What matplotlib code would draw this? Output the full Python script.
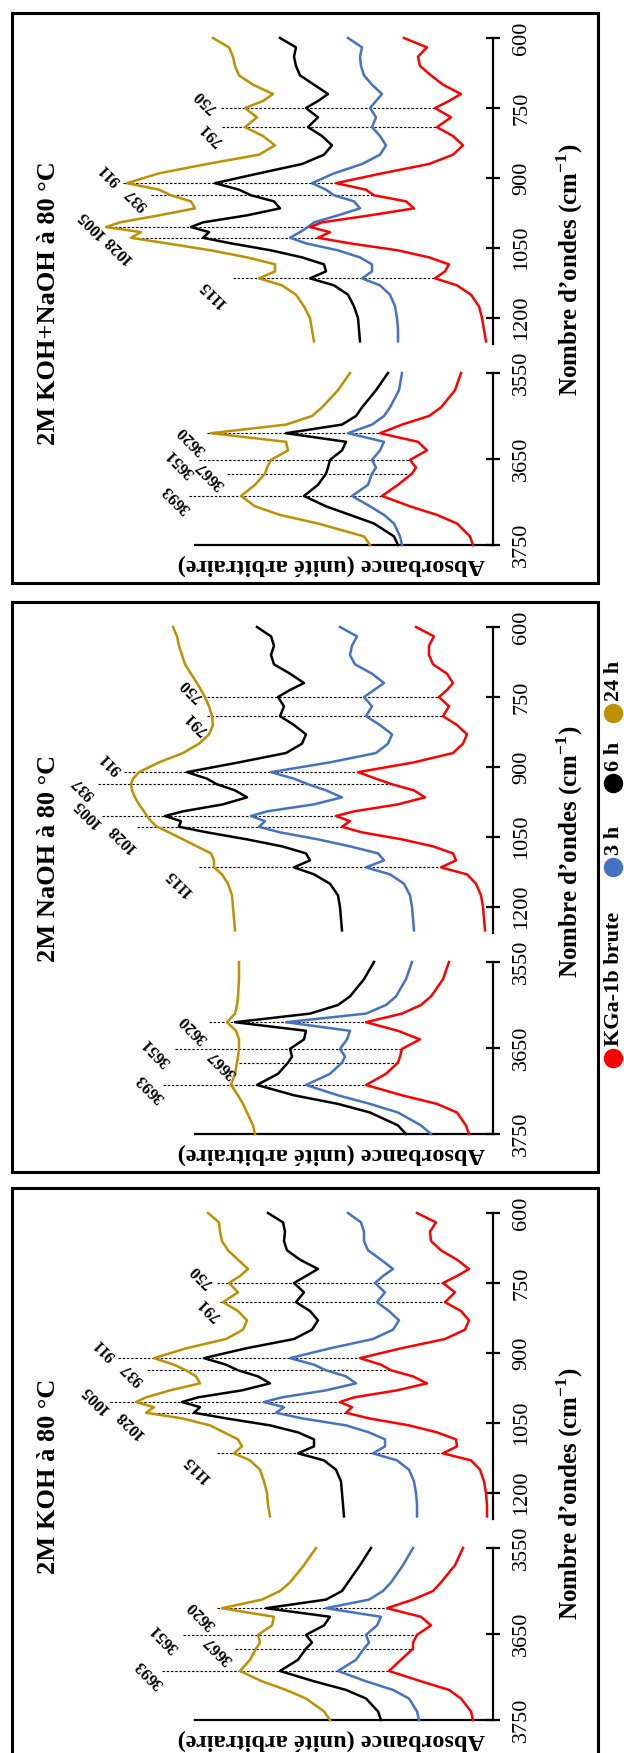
import matplotlib
matplotlib.use("Agg")
import matplotlib.pyplot as plt
from matplotlib.patches import Rectangle
from matplotlib.lines import Line2D

plt.rcParams['font.family'] = ['Liberation Serif', 'DejaVu Serif']
plt.rcParams['mathtext.fontset'] = 'custom'
plt.rcParams['mathtext.rm'] = 'Liberation Serif'
plt.rcParams['mathtext.bf'] = 'Liberation Serif:bold'

# ---------------- data ----------------
wn_r = [600, 620, 640, 660, 680, 700, 720, 735, 750, 770, 791, 810, 830, 850, 870, 890, 911, 925, 937, 950,
        965, 980, 995, 1005, 1016, 1028, 1040, 1055, 1070, 1085, 1100, 1115, 1130, 1150, 1175, 1200, 1225, 1250]
wn_l = [3550, 3570, 3590, 3600, 3610, 3620, 3630, 3640, 3651, 3660, 3667, 3680, 3693, 3705, 3715, 3725, 3740, 3750]

peaks_r = [750, 791, 911, 937, 1005, 1028, 1115]
peaks_l = [3620, 3651, 3667, 3693]

series_names = ["KGa-1b brute", "3 h", "6 h", "24 h"]
titles = ["2M KOH+NaOH à 80 °C", "2M NaOH à 80 °C", "2M KOH à 80 °C"]

# 2M KOH
koh_brute_r = [76, 57, 63, 62, 52, 36, 24, 36, 50, 38, 48, 32, 24, 28, 48, 92, 133, 112, 102, 80,
               66, 96, 139, 153, 141, 147, 124, 84, 56, 37, 36, 50, 22, 13, 9, 7, 6, 6]
koh_3h_r = [145, 132, 129, 129, 125, 112, 100, 110, 118, 108, 116, 104, 94, 100, 120, 163, 203, 179, 167, 147,
            137, 167, 211, 229, 209, 217, 191, 147, 124, 108, 108, 120, 96, 84, 79, 77, 76, 76]
koh_6h_r = [225, 210, 208, 209, 206, 193, 175, 187, 199, 189, 197, 183, 175, 181, 199, 247, 289, 267, 255, 235,
            223, 251, 295, 311, 293, 299, 267, 223, 195, 179, 179, 195, 169, 157, 152, 151, 150, 149]
koh_24h_r = [285, 274, 273, 271, 265, 255, 245, 253, 264, 255, 270, 255, 246, 250, 267, 307, 339, 319, 307, 297,
             293, 323, 347, 357, 339, 347, 311, 283, 269, 255, 251, 259, 243, 233, 229, 226, 225, 223]
koh_brute_l = [30, 38, 52, 60, 80, 106, 72, 62, 76, 80, 80, 92, 104, 72, 44, 32, 22, 20]
koh_3h_l = [80, 90, 102, 110, 124, 167, 112, 116, 127, 124, 129, 137, 155, 127, 100, 84, 76, 74]
koh_6h_l = [122, 133, 145, 151, 167, 227, 163, 169, 187, 181, 187, 195, 213, 179, 147, 127, 115, 112]
koh_24h_l = [177, 189, 203, 213, 231, 271, 219, 221, 235, 233, 237, 243, 253, 231, 207, 187, 169, 163]

# 2M NaOH
naoh_brute_r = [77, 59, 64, 64, 60, 46, 40, 46, 54, 44, 50, 36, 26, 30, 40, 79, 135, 117, 101, 79,
                68, 95, 139, 157, 143, 151, 131, 91, 60, 40, 37, 52, 26, 17, 12, 10, 9, 8]
naoh_3h_r = [153, 136, 141, 143, 138, 121, 109, 119, 129, 121, 127, 113, 101, 105, 117, 163, 222, 199, 185, 167,
             151, 179, 226, 242, 228, 234, 213, 175, 143, 115, 109, 127, 103, 89, 83, 81, 80, 79]
naoh_6h_r = [236, 222, 219, 222, 219, 203, 189, 203, 215, 209, 213, 199, 187, 191, 207, 254, 306, 286, 276, 258,
             246, 270, 310, 328, 312, 314, 286, 246, 211, 187, 183, 199, 179, 163, 155, 153, 152, 151]
naoh_24h_r = [320, 316, 314, 311, 308, 302, 296, 292, 288, 284, 281, 280, 284, 294, 310, 334, 354, 360, 362, 361,
              358, 354, 349, 346, 342, 336, 324, 310, 296, 282, 279, 279, 271, 265, 261, 260, 259, 258]
naoh_brute_l = [44, 50, 62, 72, 91, 127, 95, 73, 91, 93, 95, 107, 127, 91, 56, 36, 27, 24]
naoh_3h_l = [81, 87, 97, 107, 127, 207, 143, 146, 153, 148, 151, 163, 187, 155, 123, 95, 72, 62]
naoh_6h_l = [119, 129, 143, 155, 183, 258, 187, 189, 203, 201, 205, 215, 236, 199, 155, 123, 95, 87]
naoh_24h_l = [254, 254, 255, 256, 258, 266, 257, 254, 254, 255, 256, 258, 262, 255, 250, 246, 240, 238]

# 2M KOH+NaOH
mix_brute_r = [89, 66, 75, 73, 62, 50, 32, 44, 58, 42, 56, 40, 30, 40, 64, 111, 157, 127, 119, 87,
               79, 123, 171, 183, 163, 175, 143, 95, 64, 44, 48, 58, 36, 22, 14, 11, 9, 7]
mix_3h_r = [145, 131, 133, 132, 129, 121, 111, 117, 123, 117, 121, 113, 107, 113, 131, 159, 181, 167, 159, 139,
            133, 155, 179, 185, 193, 203, 187, 155, 133, 121, 121, 131, 113, 103, 98, 96, 95, 95]
mix_6h_r = [213, 197, 199, 197, 193, 179, 165, 175, 187, 175, 185, 171, 161, 169, 191, 234, 278, 254, 242, 219,
            213, 246, 290, 302, 284, 290, 262, 222, 191, 169, 167, 183, 159, 145, 139, 135, 134, 133]
mix_24h_r = [280, 264, 260, 258, 254, 240, 220, 230, 248, 236, 248, 230, 218, 234, 286, 334, 366, 334, 322, 302,
             298, 334, 373, 387, 352, 362, 326, 282, 246, 218, 218, 234, 211, 197, 189, 183, 181, 179]
mix_brute_l = [32, 38, 52, 64, 91, 113, 75, 66, 83, 77, 81, 95, 111, 83, 56, 36, 23, 20]
mix_3h_l = [91, 94, 103, 109, 121, 145, 109, 113, 121, 117, 121, 125, 141, 123, 109, 99, 93, 91]
mix_6h_l = [105, 117, 131, 137, 151, 207, 147, 151, 163, 165, 167, 175, 189, 167, 143, 119, 99, 95]
mix_24h_l = [143, 155, 171, 181, 207, 282, 207, 205, 222, 226, 228, 238, 252, 238, 213, 175, 129, 123]

# where the dashed peak markers start (absorbance units, label side)
mix_mark_r = [272, 271, 370, 342, 387, 360, 260]
mix_mark_l = [286, 294, 266, 304]
naoh_mark_r = [286, 286, 369, 395, 391, 356, 294]
naoh_mark_l = [284, 318, 254, 330]
koh_mark_r = [276, 273, 375, 346, 383, 348, 276]
koh_mark_l = [276, 310, 258, 331]

# ---------------- layout / style ----------------
colors = ["#FF0000", "#4472C4", "#000000", "#BF9000"]
# label centre offset from marker start, display pixels (dx right, dy down)
lab_off_r = [(-16, -7), (-11, 7), (-13, -9), (-14, 4), (-15, -3), (-15, 11), (-20, 15)]
lab_off_l = [(-15, 7), (-18, 3), (-16, 1), (-12, 3)]

W, H = 624, 1753
fig = plt.figure(figsize=(W / 100, H / 100), dpi=100)


def fx(x):
    return x / W


def fy(y):
    return 1 - y / H


def px_axes(x0, y0, x1, y1):
    return fig.add_axes([x0 / W, 1 - y1 / H, (x1 - x0) / W, (y1 - y0) / H])


panels = [
    dict(top=13, title=titles[0], title_y=290, xlab_y=257,
         right=[mix_brute_r, mix_3h_r, mix_6h_r, mix_24h_r],
         left=[mix_brute_l, mix_3h_l, mix_6h_l, mix_24h_l],
         mark_r=mix_mark_r, mark_l=mix_mark_l),
    dict(top=602, title=titles[1], title_y=256, xlab_y=250,
         right=[naoh_brute_r, naoh_3h_r, naoh_6h_r, naoh_24h_r],
         left=[naoh_brute_l, naoh_3h_l, naoh_6h_l, naoh_24h_l],
         mark_r=naoh_mark_r, mark_l=naoh_mark_l),
    dict(top=1188, title=titles[2], title_y=288, xlab_y=306,
         right=[koh_brute_r, koh_3h_r, koh_6h_r, koh_24h_r],
         left=[koh_brute_l, koh_3h_l, koh_6h_l, koh_24h_l],
         mark_r=koh_mark_r, mark_l=koh_mark_l),
]

AX_X0, AX_X1 = 12, 493
A_MAX = AX_X1 - AX_X0


def style_axis(ax, ticks):
    for s in ['top', 'bottom', 'left']:
        ax.spines[s].set_visible(False)
    ax.spines['right'].set_linewidth(1.6)
    ax.yaxis.tick_right()
    ax.set_yticks(ticks)
    ax.set_yticklabels([str(t) for t in ticks])
    ax.set_xticks([])
    ax.tick_params(axis='y', direction='inout', length=9.5, width=1.6, pad=9,
                   labelsize=16, labelrotation=90)
    for lb in ax.get_yticklabels():
        lb.set_va('center')
    ax.patch.set_alpha(0)


def draw_marks(ax, peaks, starts, red, offs):
    for wn, st, (dx, dy) in zip(peaks, starts, offs):
        ax.plot([st, red[wn]], [wn, wn], color='black', lw=0.8, ls=(0, (2.2, 1.6)),
                zorder=1, clip_on=False)
        ax.annotate(str(wn), xy=(st, wn), xytext=(dx, -dy), textcoords='offset pixels',
                    rotation=135, rotation_mode='anchor', ha='center', va='center',
                    fontsize=12, fontweight='bold', annotation_clip=False)


for p in panels:
    T = p['top']
    fig.patches.append(Rectangle((fx(12), fy(T + 570)), 586 / W, 570 / H, transform=fig.transFigure,
                                 fill=False, lw=2.2, ec='black', zorder=0))
    # right block 600-1255
    axR = px_axes(AX_X0, T + 25, AX_X1, T + 330.7)
    axR.set_xlim(A_MAX, 0)
    axR.set_ylim(1255, 600)
    style_axis(axR, [600, 750, 900, 1050, 1200])
    # left block 3550-3750
    axL = px_axes(AX_X0, T + 360, AX_X1, T + 532)
    axL.set_xlim(A_MAX, 0)
    axL.set_ylim(3750, 3550)
    style_axis(axL, [3550, 3650, 3750])
    axL.spines['bottom'].set_visible(True)
    axL.spines['bottom'].set_linewidth(1.6)
    axL.spines['bottom'].set_bounds(0, 298)

    for vals, col in reversed(list(zip(p['right'], colors))):
        axR.plot(vals, wn_r, color=col, lw=1.8, clip_on=False, solid_joinstyle='round', zorder=3)
    for vals, col in reversed(list(zip(p['left'], colors))):
        axL.plot(vals, wn_l, color=col, lw=1.8, clip_on=False, solid_joinstyle='round', zorder=3)

    red_r = dict(zip(wn_r, p['right'][0]))
    red_l = dict(zip(wn_l, p['left'][0]))
    draw_marks(axR, peaks_r, p['mark_r'], red_r, lab_off_r)
    draw_marks(axL, peaks_l, p['mark_l'], red_l, lab_off_l)

    fig.text(fx(49), fy(T + p['title_y']), p['title'], rotation=90, ha='center', va='center',
             fontsize=19, fontweight='bold')
    fig.text(fx(570), fy(T + p['xlab_y']), r"Nombre d’ondes (cm$^{\mathbf{-1}}$)", rotation=90,
             ha='center', va='center', fontsize=18, fontweight='bold')
    fig.text(fx(331), fy(T + 552), "Absorbance (unité arbitraire)", rotation=180,
             ha='center', va='center', fontsize=17.5, fontweight='bold')

# legend (rotated, between panels' right edge and figure edge)
legend_y = [1058, 867, 783, 713]
for name, col, y in zip(series_names, colors, legend_y):
    fig.add_artist(Line2D([fx(613)], [fy(y)], marker='o', ms=13, color=col, lw=0,
                          transform=fig.transFigure))
    fig.text(fx(614), fy(y - 12), name, rotation=90, ha='center', va='bottom',
             fontsize=16, fontweight='bold')

fig.savefig("out.png", dpi=100)
